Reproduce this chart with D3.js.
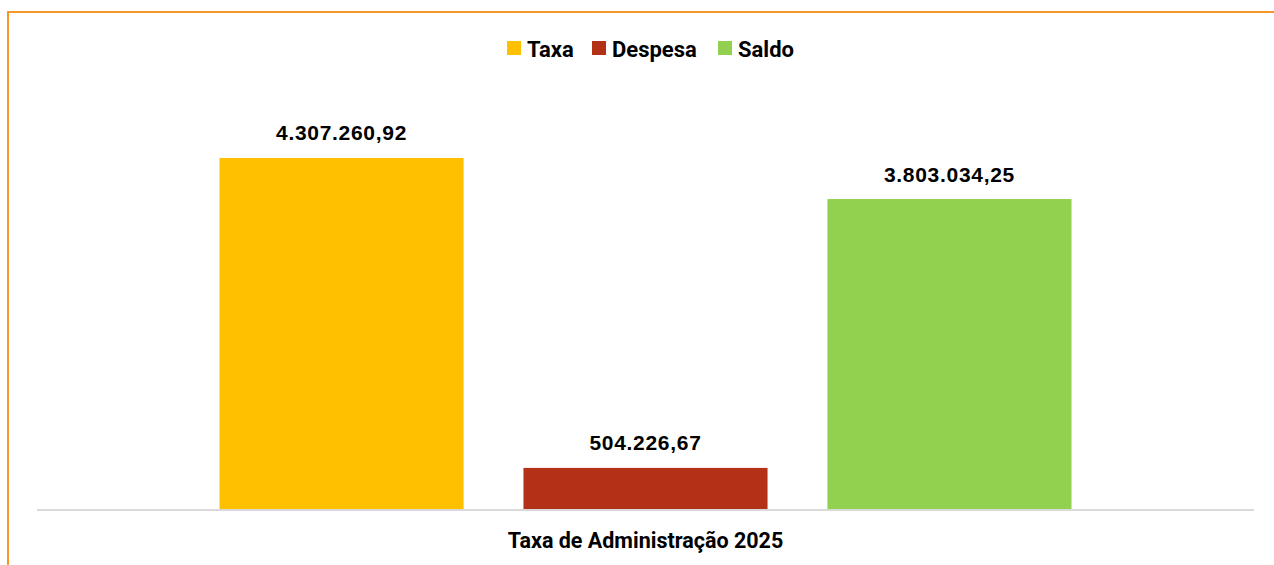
<!DOCTYPE html>
<html><head><meta charset="utf-8">
<script src="https://cdn.jsdelivr.net/npm/d3@7"></script>
<style>html,body{margin:0;padding:0;background:#fff;}svg{display:block;}</style>
</head><body>
<script>
const categories = ["Taxa de Administração 2025"];
const seriesNames = ["Taxa", "Despesa", "Saldo"];
const seriesValues = [4307260.92, 504226.67, 3803034.25];
const seriesColors = ["#FFC000", "#B33117", "#92D050"];

const W = 1274, H = 565;
const svg = d3.select("body").append("svg").attr("width", W).attr("height", H);

// chart frame (extends past right/bottom edge)
svg.append("rect").attr("x", 8).attr("y", 12).attr("width", W + 20).attr("height", H + 20)
  .attr("fill", "#fff").attr("stroke", "#F7962A").attr("stroke-width", 2);

const plotLeft = 37, plotRight = 1254, baseY = 509;
const x0 = d3.scaleBand().domain(categories).range([plotLeft, plotRight]).paddingInner(0).paddingOuter(0.2142);
const x1 = d3.scaleBand().domain(seriesNames).range([0, x0.bandwidth()]).paddingInner(0.197).paddingOuter(0);
const y = d3.scaleLinear().domain([0, 5000000]).range([baseY, baseY - 407.5]);

const fmt = v => {
  const [i, d] = v.toFixed(2).split(".");
  return i.replace(/\B(?=(\d{3})+(?!\d))/g, ".") + "," + d;
};

const g = svg.append("g");
categories.forEach(cat => {
  seriesNames.forEach((s, k) => {
    const v = seriesValues[k];
    const bx = x0(cat) + x1(s);
    g.append("rect").attr("x", bx).attr("y", y(v)).attr("width", x1.bandwidth())
      .attr("height", y(0) - y(v)).attr("fill", seriesColors[k]);
    g.append("text").attr("x", bx + x1.bandwidth() / 2).attr("y", y(v) - 17.5)
      .attr("text-anchor", "middle").attr("font-family", "Liberation Sans, Arial, sans-serif")
      .attr("font-weight", "bold").attr("font-size", 21).attr("letter-spacing", 0.7)
      .attr("fill", "#000").text(fmt(v));
  });
});

// axis
const xAxis = d3.axisBottom(x0).tickSize(0).tickPadding(23);
const ax = svg.append("g").attr("transform", `translate(0,${baseY + 1})`).call(xAxis);
ax.select(".domain").attr("stroke", "#D9D9D9").attr("stroke-width", 2).attr("d", `M${plotLeft},0H${plotRight}`);
ax.selectAll("text").attr("font-family", "Roboto, sans-serif").attr("font-weight", "bold")
  .attr("font-size", 21.5).attr("fill", "#000");

// legend
const legendItems = [
  {name: seriesNames[0], color: seriesColors[0], sx: 507},
  {name: seriesNames[1], color: seriesColors[1], sx: 592},
  {name: seriesNames[2], color: seriesColors[2], sx: 718}
];
const lg = svg.append("g");
legendItems.forEach(it => {
  lg.append("rect").attr("x", it.sx).attr("y", 41).attr("width", 14).attr("height", 14).attr("fill", it.color);
  lg.append("text").attr("x", it.sx + 20).attr("y", 57).attr("font-family", "Roboto, sans-serif")
    .attr("font-weight", "bold").attr("font-size", 22).attr("fill", "#000").text(it.name);
});
</script>
</body></html>
